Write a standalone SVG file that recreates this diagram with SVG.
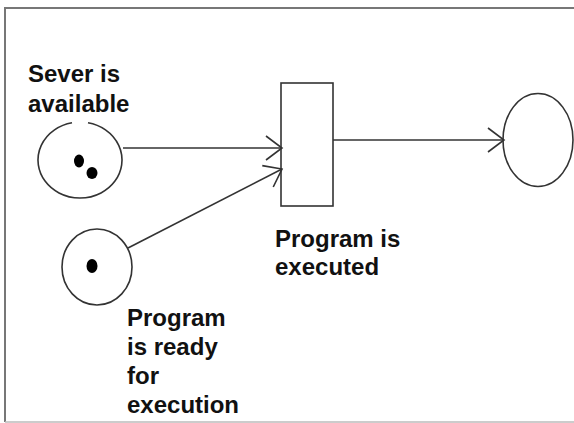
<svg xmlns="http://www.w3.org/2000/svg" width="574" height="423" viewBox="0 0 574 423">
<style>
.lbl{font-family:"Liberation Sans",Arial,sans-serif;font-weight:bold;font-size:24px;fill:#111}
.shape{fill:none;stroke:#333;stroke-width:1.6}
.tok{fill:#000}
.conn{fill:none;stroke:#333;stroke-width:1.6}
</style>
<defs>
<marker id="arr" markerUnits="userSpaceOnUse" markerWidth="40" markerHeight="40" refX="0" refY="0" viewBox="-20 -20 40 40" orient="auto" overflow="visible">
<path d="M -16 -12 L 0 0 L -16 12" fill="none" stroke="#333" stroke-width="1.6"/>
</marker>
</defs>
<rect x="0" y="0" width="574" height="423" fill="#fff"/>
<path d="M 5 422 L 5 8 L 574 8" fill="none" stroke="#777" stroke-width="2"/>
<path d="M 5 422 L 574 422" fill="none" stroke="#bbb" stroke-width="1.5"/>
<g id="place-server">
<path class="shape" d="M 88 122.7 A 42 38 0 1 1 72 122.7"/>
<ellipse class="tok" cx="79" cy="161" rx="5" ry="6.5"/>
<ellipse class="tok" cx="92" cy="173" rx="5.5" ry="6"/>
<text class="lbl" x="28" y="82">Sever is</text>
<text class="lbl" x="28" y="112">available</text>
</g>
<g id="place-program">
<ellipse class="shape" cx="97" cy="267" rx="35" ry="38"/>
<ellipse class="tok" cx="92" cy="266" rx="5.5" ry="7"/>
<text class="lbl" x="127" y="326">Program</text>
<text class="lbl" x="127" y="355">is ready</text>
<text class="lbl" x="127" y="384">for</text>
<text class="lbl" x="127" y="413">execution</text>
</g>
<g id="transition">
<rect class="shape" x="281" y="83" width="52" height="123"/>
<text class="lbl" x="275" y="247">Program is</text>
<text class="lbl" x="275" y="275">executed</text>
</g>
<g id="place-output">
<ellipse class="shape" cx="538" cy="140" rx="35" ry="46.5"/>
</g>
<g id="connectors">
<path class="conn" d="M 123 148 L 282 148" marker-end="url(#arr)"/>
<path class="conn" d="M 128 248 L 282 169" marker-end="url(#arr)"/>
<path class="conn" d="M 333 140 L 504 140" marker-end="url(#arr)"/>
</g>
</svg>
